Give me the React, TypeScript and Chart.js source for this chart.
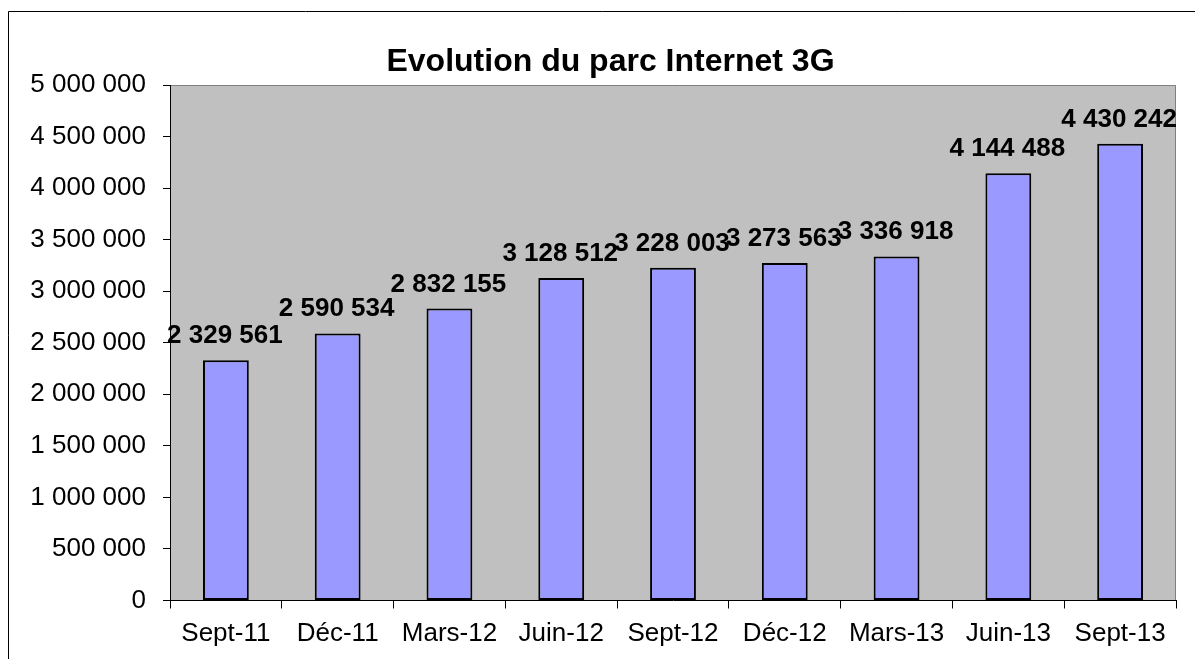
import React, { useEffect, useRef } from "react";
import { Chart, registerables } from "chart.js";

Chart.register(...registerables);

const TITLE = "Evolution du parc Internet 3G";
const categories = ["Sept-11", "Déc-11", "Mars-12", "Juin-12", "Sept-12", "Déc-12", "Mars-13", "Juin-13", "Sept-13"];
const values = [2329561, 2590534, 2832155, 3128512, 3228003, 3273563, 3336918, 4144488, 4430242];
const yMin = 0;
const yMax = 5000000;
const yStep = 500000;

const FONT = "'Liberation Sans', Arial, sans-serif";

const fmt = (v: number) => String(Math.round(v)).replace(/\B(?=(\d{3})+(?!\d))/g, " ");

const framePlugin = {
  id: "frame",
  beforeDraw(chart: any) {
    const { ctx, chartArea } = chart;
    ctx.save();
    ctx.fillStyle = "#ffffff";
    ctx.fillRect(0, 0, chart.width, chart.height);
    // outer frame
    ctx.strokeStyle = "#000000";
    ctx.lineWidth = 1;
    ctx.beginPath();
    ctx.moveTo(8.5, chart.height + 2);
    ctx.lineTo(8.5, 11.5);
    ctx.lineTo(chart.width + 2, 11.5);
    ctx.stroke();
    // plot background
    ctx.fillStyle = "#C0C0C0";
    ctx.fillRect(chartArea.left, chartArea.top, chartArea.right - chartArea.left, chartArea.bottom - chartArea.top);
    ctx.strokeStyle = "#808080";
    ctx.beginPath();
    ctx.moveTo(chartArea.left, chartArea.top + 0.5);
    ctx.lineTo(chartArea.right - 0.5, chartArea.top + 0.5);
    ctx.lineTo(chartArea.right - 0.5, chartArea.bottom);
    ctx.stroke();
    // title
    ctx.font = `bold 32px ${FONT}`;
    ctx.fillStyle = "#000000";
    ctx.textAlign = "center";
    ctx.textBaseline = "alphabetic";
    ctx.fillText(TITLE, 610.5, 71);
    ctx.restore();
  },
};

const labelPlugin = {
  id: "valueLabels",
  afterDatasetsDraw(chart: any) {
    const { ctx } = chart;
    const meta = chart.getDatasetMeta(0);
    ctx.save();
    ctx.font = `bold 26px ${FONT}`;
    ctx.fillStyle = "#000000";
    ctx.textAlign = "center";
    ctx.textBaseline = "alphabetic";
    meta.data.forEach((bar: any, i: number) => {
      ctx.fillText(fmt(values[i]), bar.x - 1, bar.y - 17);
    });
    ctx.restore();
  },
};

export default function App() {
  const ref = useRef<HTMLCanvasElement | null>(null);
  useEffect(() => {
    if (!ref.current) return;
    const chart = new Chart(ref.current, {
      type: "bar",
      data: {
        labels: categories,
        datasets: [
          {
            data: values,
            backgroundColor: "#9999FF",
            borderColor: "#000000",
            borderWidth: 2,
            borderSkipped: false,
            barPercentage: 0.41,
            categoryPercentage: 1,
          },
        ],
      },
      options: {
        responsive: false,
        animation: false,
        devicePixelRatio: 1,
        layout: { padding: { left: 0, right: 19, top: 85, bottom: 0 } },
        plugins: {
          legend: { display: false },
          tooltip: { enabled: false },
          title: { display: false },
        },
        scales: {
          x: {
            offset: true,
            grid: {
              display: true,
              offset: true,
              drawOnChartArea: false,
              drawTicks: true,
              tickLength: 8,
              color: "#000000",
              lineWidth: 1,
            },
            border: { display: true, color: "#000000", width: 1 },
            ticks: {
              color: "#000000",
              font: { family: FONT, size: 26 },
              padding: 10,
              maxRotation: 0,
              autoSkip: false,
            },
            afterFit(scale: any) {
              scale.height = 58.5;
            },
          },
          y: {
            min: yMin,
            max: yMax,
            grid: {
              display: true,
              drawOnChartArea: false,
              drawTicks: true,
              tickLength: 7,
              color: "#000000",
              lineWidth: 1,
            },
            border: { display: true, color: "#000000", width: 1 },
            ticks: {
              stepSize: yStep,
              color: "#000000",
              font: { family: FONT, size: 26 },
              padding: 17,
              callback: (v: any) => fmt(Number(v)),
            },
            afterFit(scale: any) {
              scale.width = 170;
            },
          },
        },
      },
      plugins: [framePlugin, labelPlugin],
    });
    return () => chart.destroy();
  }, []);
  return (
    <canvas
      ref={ref}
      width={1195}
      height={659}
      style={{ position: "fixed", left: 0, top: 0, width: 1195, height: 659, display: "block" }}
    />
  );
}
